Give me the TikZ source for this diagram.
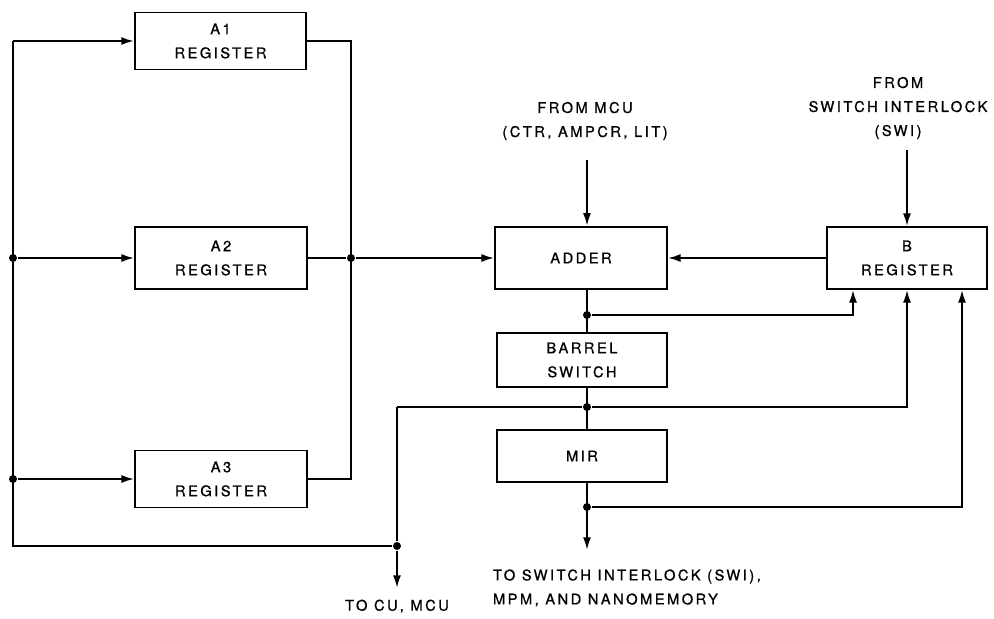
\documentclass[tikz,border=0pt]{standalone}
\usepackage{fontspec}
\setmainfont{TeX Gyre Heros}[LetterSpace=17,FakeBold=1]
\usetikzlibrary{arrows.meta,positioning}
\tikzset{
	blk/.style = {draw=black, rectangle, align=center, inner sep=0pt,
		line width=1.3pt, font=\fontsize{11}{18}\selectfont},% register / unit box
	lbl/.style = {align=center, inner sep=0pt,
		font=\fontsize{11}{18}\selectfont},% free text
	jdot/.style = {circle, fill=black, inner sep=0pt, minimum size=6pt}% junction
}
\begin{document}
\begin{tikzpicture}[x=0.75pt,y=-0.75pt,line width=1.5pt,
	>={Latex[length=9.5pt,width=6pt]}]
\useasboundingbox (0,0) rectangle (994,618);
% boxes
\node[blk, minimum width=128.5pt, minimum height=42.75pt] (a1) at (220.5,41) {A1\\REGISTER};
\node[blk, minimum width=129pt, minimum height=46.5pt] (a2) at (221,258) {A2\\REGISTER};
\node[blk, minimum width=129pt, minimum height=42.75pt] (a3) at (221,479) {A3\\REGISTER};
\node[blk, minimum width=129pt, minimum height=47pt] (adder) at (581,258) {ADDER};
\node[blk, minimum width=120pt, minimum height=46.5pt] (b) at (907,258) {B\\REGISTER};
\node[blk, minimum width=127.5pt, minimum height=40.5pt] (barrel) at (582,360) {BARREL\\SWITCH};
\node[blk, minimum width=127.5pt, minimum height=39pt] (mir) at (582,456) {MIR};
% junctions and ends
\coordinate (lt) at (13,41);
\coordinate (lb) at (13,546);
\node[jdot] (l2) at (13,258) {};
\node[jdot] (l3) at (13,479) {};
\node[jdot] (r2) at (351,258) {};
\coordinate (rb) at (351,479);
\node[jdot] (cu) at (397,546) {};
\coordinate (cuturn) at (397,407);
\coordinate (cuend) at (397,588);
\coordinate (mcuin) at (587,160);
\coordinate (swiin) at (907,150);
\node[jdot] (s1) at (587,315) {};
\node[jdot] (s2) at (587,407) {};
\node[jdot] (s3) at (587,507) {};
\coordinate (outend) at (587,550);
% A registers
\draw (lt) -- (lb) -- (cu);
\draw[->] (lt) -- (a1.west);
\draw[->] (l2) -- (a2.west);
\draw[->] (l3) -- (a3.west);
\draw (a1.east) -| (rb) -- (a3.east);
\draw (a2.east) -- (r2);
\draw[->] (r2) -- (adder.west);
% adder, barrel switch, mir
\draw[->] (mcuin) -- (mcuin |- adder.north);
\draw[->] (swiin) -- (b.north);
\draw[->] (b.west) -- (adder.east);
\draw (mcuin |- adder.south) -- (mcuin |- barrel.north);
\draw (mcuin |- barrel.south) -- (mcuin |- mir.north);
\draw[->] (mcuin |- mir.south) -- (outend);
\draw[->] (s1) -| ([xshift=-40.5pt]b.south);
\draw[->] (cuturn) -- (s2) -| (b.south);
\draw[->] (s3) -| ([xshift=41.25pt]b.south);
\draw (cuturn) -- (cu);
\draw[->] (cu) -- (cuend);
% labels
\node[lbl] (frommcu) at (585,121) {FROM MCU\\(CTR, AMPCR, LIT)};
\node[lbl] (fromswi) at (898,108) {FROM\\SWITCH INTERLOCK\\(SWI)};
\node[lbl, below=8pt of cuend] (tocu) {TO CU, MCU};
\node[lbl, align=left, anchor=west] (toswi) at (492,588) {TO SWITCH INTERLOCK (SWI),\\MPM, AND NANOMEMORY};
\end{tikzpicture}
\end{document}
